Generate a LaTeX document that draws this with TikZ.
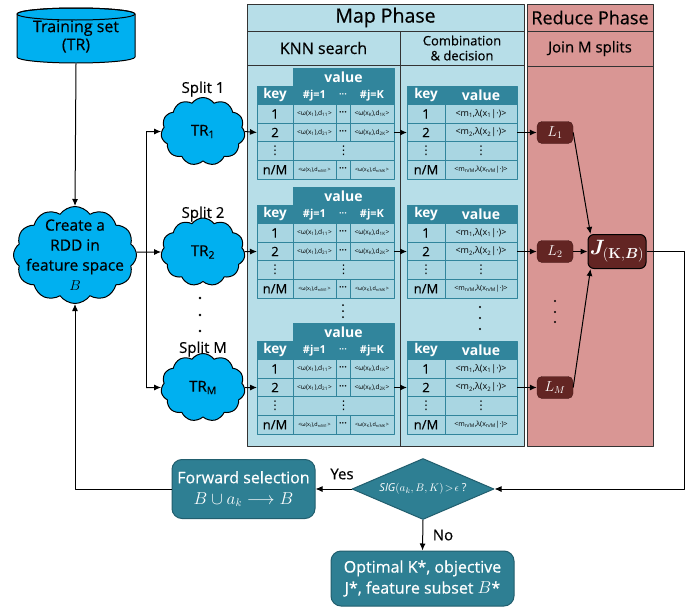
\documentclass[tikz,border=0pt]{standalone}
\usepackage[no-math]{fontspec}
\usepackage{bm}
\setmainfont{Open Sans}
\newfontfamily\semib{Open Sans}[FakeBold=0.45]
\newfontfamily\djv{DejaVu Sans}
\usetikzlibrary{arrows.meta,shapes.symbols,shapes.geometric}

\definecolor{skyC}{HTML}{00B0F0}
\definecolor{mapbg}{HTML}{B7DEE8}
\definecolor{cellbg}{HTML}{A9D6E2}
\definecolor{headteal}{HTML}{31859C}
\definecolor{tealdark}{HTML}{215E6E}
\definecolor{redbg}{HTML}{D99694}
\definecolor{darkred}{HTML}{632523}
\definecolor{flowteal}{HTML}{2E7F93}

\newcommand\fsz[2]{\fontsize{#1}{#2}\selectfont}
\newcommand\jlabel{$\bm{J}_{(\mathbf{K},\bm{B})}$}
\newcommand\vdotsign{{\djv ⋮}}

\tikzset{
  arr/.style={-{Latex[length=7pt,width=6pt]}, line width=1pt},
  conn/.style={line width=1pt},
  panel/.style={draw=black!80, line width=1pt},
  cell/.style={draw=headteal, line width=0.8pt, anchor=north west, inner sep=0pt,
    outer sep=0pt, minimum height=18.6pt},
  hcell/.style={cell, fill=headteal, text=white, font=\bfseries\fsz{13.5}{14}},
  hsmall/.style={font=\bfseries\fsz{11}{11}},
  kcell/.style={cell, fill=cellbg, font=\semib\fsz{13}{13}},
  ecell/.style={cell, fill=cellbg, font=\fsz{12}{12}},
  dcell/.style={cell, fill=cellbg, font=\bfseries\fsz{9}{9}},
  vcell/.style={cell, fill=cellbg, font=\fsz{6.6}{7}},
  ccell/.style={cell, fill=cellbg, font=\fsz{9}{9}},
  skycloud/.style={cloud, cloud puffs=11, cloud puff arc=110, cloud ignores aspect,
    draw=black, line width=1pt, fill=skyC, inner sep=0pt},
  lbox/.style={rounded corners=5pt, fill=darkred, draw=darkred!70!black, text=white,
    minimum width=36pt, minimum height=22pt, inner sep=0pt, font=\fsz{14}{14}},
  jbox/.style={rounded corners=6pt, fill=darkred, draw=black, line width=1pt, text=white,
    minimum width=58pt, minimum height=34pt, inner sep=0pt, font=\fsz{20}{20}},
  fbox/.style={rounded corners=10pt, fill=flowteal, draw=tealdark, line width=1pt,
    text=white, align=center, inner sep=0pt, font=\semib\fsz{16}{21}},
  txt/.style={font=\semib\fsz{15}{16}},
  dot/.style={fill=black, circle, inner sep=0pt, minimum size=2.6pt},
}

% one split: KNN table, combination table and the arrow between them
% #1 name prefix, #2 top of the "value" header
\newcommand\splitblock[2]{%
  \pgfmathsetmacro\rowH{#2+18}%
  \pgfmathsetmacro\rowA{#2+36.6}%
  \pgfmathsetmacro\rowB{#2+55.2}%
  \pgfmathsetmacro\rowC{#2+73.8}%
  \pgfmathsetmacro\rowD{#2+92.4}%
  % KNN table
  \node[hcell, minimum width=101pt, minimum height=18pt, font=\bfseries\fsz{14}{14}] (#1val) at (293,#2) {value};
  \node[hcell, minimum width=36pt] (#1hk) at (257,\rowH) {key};
  \node[hcell, hsmall, minimum width=43pt] (#1h1) at (293,\rowH) {\#j=1};
  \node[hcell, minimum width=14pt, font=\bfseries\fsz{9}{9}] (#1hd) at (336,\rowH) {···};
  \node[hcell, hsmall, minimum width=44pt] (#1hK) at (350,\rowH) {\#j=K};
  \node[kcell, minimum width=36pt] (#1ka) at (257,\rowA) {1};
  \node[vcell, minimum width=43pt] (#1fa) at (293,\rowA) {<ω(x\textsubscript{1}),d\textsubscript{11}>};
  \node[dcell, minimum width=14pt] (#1da) at (336,\rowA) {···};
  \node[vcell, minimum width=44pt] (#1la) at (350,\rowA) {<ω(x\textsubscript{K}),d\textsubscript{1K}>};
  \node[kcell, minimum width=36pt] (#1key) at (257,\rowB) {2};
  \node[vcell, minimum width=43pt] (#1fb) at (293,\rowB) {<ω(x\textsubscript{1}),d\textsubscript{21}>};
  \node[dcell, minimum width=14pt] (#1db) at (336,\rowB) {···};
  \node[vcell, minimum width=44pt] (#1last) at (350,\rowB) {<ω(x\textsubscript{K}),d\textsubscript{2K}>};
  \node[ecell, minimum width=36pt] (#1kc) at (257,\rowC) {\vdotsign};
  \node[ecell, minimum width=101pt] (#1fc) at (293,\rowC) {\vdotsign};
  \node[kcell, minimum width=36pt] (#1kd) at (257,\rowD) {n/M};
  \node[vcell, minimum width=43pt, font=\fsz{5.4}{6}] (#1fd) at (293,\rowD) {<ω(x\textsubscript{l}),d\textsubscript{n/M1}>};
  \node[dcell, minimum width=14pt] (#1dd) at (336,\rowD) {···};
  \node[vcell, minimum width=44pt, font=\fsz{5.4}{6}] (#1ld) at (350,\rowD) {<ω(x\textsubscript{K}),d\textsubscript{n/MK}>};
  % combination table
  \node[hcell, minimum width=38pt] (#1chk) at (407,\rowH) {key};
  \node[hcell, minimum width=72pt, font=\bfseries\fsz{14}{14}] (#1chv) at (445,\rowH) {value};
  \node[kcell, minimum width=38pt] (#1cka) at (407,\rowA) {1};
  \node[ccell, minimum width=72pt] (#1cva) at (445,\rowA) {<m\textsubscript{1},λ(x\textsubscript{1}|·)>};
  \node[kcell, minimum width=38pt] (#1ckey) at (407,\rowB) {2};
  \node[ccell, minimum width=72pt] (#1cval) at (445,\rowB) {<m\textsubscript{2},λ(x\textsubscript{2}|·)>};
  \node[ecell, minimum width=38pt] (#1ckc) at (407,\rowC) {\vdotsign};
  \node[ecell, minimum width=72pt] (#1cvc) at (445,\rowC) {\vdotsign};
  \node[kcell, minimum width=38pt] (#1ckd) at (407,\rowD) {n/M};
  \node[ccell, minimum width=72pt, font=\fsz{7}{7}] (#1cvd) at (445,\rowD) {<m\textsubscript{n/M},λ(x\textsubscript{n/M}|·)>};
  \draw[arr] (#1last.east) -- (#1ckey.west);
}

\begin{document}
\begin{tikzpicture}[x=1pt,y=-1pt,line join=round]
\useasboundingbox (0,0) rectangle (697,608);
\fill[white] (0,0) rectangle (697,608);

% Map and Reduce panels
\fill[mapbg] (247,4) rectangle (524,446);
\draw[panel] (247,4) rectangle (524,446)
  (247,31) -- (524,31) (247,65) -- (524,65) (400,31) -- (400,446);
\fill[redbg] (527,4) rectangle (653,446);
\draw[panel] (527,4) rectangle (653,446)
  (527,31) -- (653,31) (527,66) -- (653,66);
\node[font=\semib\fsz{19.5}{20}] (maphead) at (385.5,17.5) {Map Phase};
\node[font=\semib\fsz{16}{18}] (knnhead) at (323.5,48) {KNN search};
\node[font=\semib\fsz{13}{15}, align=center] (combhead) at (462,48) {Combination\\\& decision};
\node[font=\semib\fsz{18}{20}] (redhead) at (590,17.5) {Reduce Phase};
\node[font=\semib\fsz{15}{16}] (joinhead) at (590,48.5) {Join M splits};

% training set cylinder
\filldraw[fill=skyC, draw=black, line width=1pt]
  (17,14) -- (17,57) arc[start angle=180, end angle=360, x radius=59pt, y radius=6pt]
  -- (135,14) arc[start angle=0, end angle=180, x radius=59pt, y radius=6pt] -- cycle;
\draw[line width=1pt] (76,14) ellipse [x radius=59pt, y radius=6pt];
\node[minimum width=118pt, minimum height=55pt, inner sep=0pt, align=center,
  font=\semib\fsz{16}{18}] (trainset) at (76,36.5) {Training set\\(TR)};

% RDD cloud
\node[skycloud, cloud puffs=12, minimum width=123pt, minimum height=97pt] (rdd) at (75,255) {};
\node[align=center, font=\semib\fsz{15.5}{20}] (rddtext) at (rdd.center) {Create a\\RDD in\\feature space\\$B$};

% splits
\node[skycloud, minimum width=84pt, minimum height=68pt] (tr1) at (203,131.5) {};
\node[font=\semib\fsz{15}{15}] (tr1t) at (tr1.center) {TR\textsubscript{1}};
\node[skycloud, minimum width=84pt, minimum height=68pt] (tr2) at (203,252) {};
\node[font=\semib\fsz{15}{15}] (tr2t) at (tr2.center) {TR\textsubscript{2}};
\node[skycloud, minimum width=84pt, minimum height=68pt] (trm) at (203,387.5) {};
\node[font=\semib\fsz{15}{15}] (trmt) at (trm.center) {TR\textsubscript{M}};
\node[txt] (s1) at (203,89) {Split 1};
\node[txt] (s2) at (203,214) {Split 2};
\node[txt] (sm) at (203,349) {Split M};
\node[dot] (sd1) at (200,298) {};
\node[dot] (sd2) at (200,315) {};
\node[dot] (sd3) at (200,331) {};

% tables
\splitblock{ga}{68}
\splitblock{gb}{187}
\splitblock{gc}{323}
\node[dot, minimum size=2pt] (kd1) at (343,305) {};
\node[dot, minimum size=2pt] (kd2) at (343,311) {};
\node[dot, minimum size=2pt] (kd3) at (343,317) {};
\node[dot, minimum size=2.4pt] (cd1) at (480,307) {};
\node[dot, minimum size=2.4pt] (cd2) at (480,318) {};
\node[dot, minimum size=2.4pt] (cd3) at (480,329) {};

% reduce
\node[lbox] (l1) at (555,132.5) {$L_1$};
\node[lbox] (l2) at (555,251.5) {$L_2$};
\node[lbox] (lm) at (555,387.5) {$L_M$};
\node[jbox] (jres) at (617,251.5) {\jlabel};
\node[dot, minimum size=2.2pt] (rd1) at (555,301) {};
\node[dot, minimum size=2.2pt] (rd2) at (555,312) {};
\node[dot, minimum size=2.2pt] (rd3) at (555,322) {};

% decision part
\node[fbox, minimum width=143pt, minimum height=59pt] (fwd) at (243.5,489)
  {Forward selection\\$B\cup a_k\longrightarrow B$};
\node[diamond, aspect=2.33, fill=flowteal, draw=tealdark, line width=1pt, text=white,
  minimum width=142pt, minimum height=61pt, inner sep=0pt, font=\fsz{11}{12}]
  (dia) at (423,489) {\textit{SIG}$(a_k,B,K)\!>\!\epsilon$ ?};
\node[fbox, minimum width=183pt, minimum height=55pt] (opt) at (422.5,578.5)
  {Optimal K*, objective\\J*, feature subset $B$*};
\node[txt] (yes) at (342,474) {Yes};
\node[txt] (no) at (443,535) {No};

% connectors
\coordinate (trunk) at (146,0);
\coordinate (rightx) at (684,0);
\draw[arr] (trainset.south) -- (rdd.north);
\draw[arr] (rdd.east |- tr2) -- (tr2);
\draw[conn] (tr1 -| trunk) -- (trm -| trunk);
\draw[arr] (tr1 -| trunk) -- (tr1);
\draw[arr] (trm -| trunk) -- (trm);
\draw[arr] (tr1.center -| tr1.east) -- (gakey.west);
\draw[arr] (tr2) -- (gbkey.west);
\draw[arr] (trm) -- (gckey.west);
\draw[arr] (gacval.east) -- (l1);
\draw[arr] (gbcval.east) -- (l2);
\draw[arr] (gccval.east) -- (lm);
\draw[arr] (l1.east) -- ([xshift=3pt]jres.north west);
\draw[arr] (l2) -- (jres);
\draw[arr] (lm.east) -- ([xshift=3pt]jres.south west);
\draw[arr] (jres.east) -- (jres.east -| rightx) |- (dia.east);
\draw[arr] (dia.west) -- (fwd.east);
\draw[arr] (dia.south) -- (opt.north);
\draw[arr] (fwd.west) -| (rdd.south);
\end{tikzpicture}
\end{document}
